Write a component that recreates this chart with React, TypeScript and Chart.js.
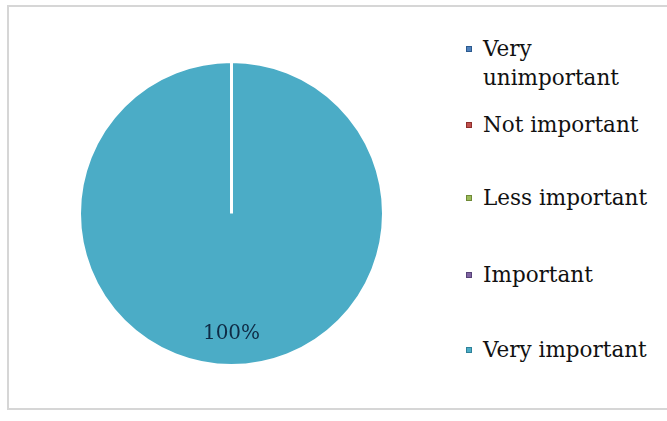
import React, { useEffect, useRef } from "react";
import { Chart, registerables } from "chart.js";

Chart.register(...registerables);

const categories = ["Very unimportant", "Not important", "Less important", "Important", "Very important"];
const legendLines = [["Very", "unimportant"], ["Not important"], ["Less important"], ["Important"], ["Very important"]];
const values = [0, 0, 0, 0, 100];
const colors = ["#4F81BD", "#C0504D", "#9BBB59", "#8064A2", "#4BACC6"];
const markerBorders = ["#2c5a8e", "#8e2f2c", "#6f8a37", "#574378", "#2f8199"];

const FONT = "'DejaVu Serif', serif";

const pctLabelPlugin = {
  id: "pctLabel",
  afterDatasetsDraw(chart: any) {
    const ctx = chart.ctx;
    const meta = chart.getDatasetMeta(0);
    const data = chart.data.datasets[0].data as number[];
    const total = data.reduce((a, b) => a + b, 0);
    meta.data.forEach((arc: any, i: number) => {
      if (!data[i]) return;
      const { x, y, startAngle, endAngle, outerRadius } = arc.getProps(["x", "y", "startAngle", "endAngle", "outerRadius"], true);
      const mid = (startAngle + endAngle) / 2;
      const r = outerRadius * 0.79;
      ctx.save();
      ctx.font = "20px " + FONT;
      ctx.fillStyle = "#0f2b45";
      ctx.textAlign = "center";
      ctx.textBaseline = "middle";
      ctx.fillText(Math.round((data[i] / total) * 100) + "%", x + Math.cos(mid) * r, y + Math.sin(mid) * r);
      ctx.restore();
    });
  },
};

export default function App() {
  const ref = useRef<HTMLCanvasElement>(null);
  useEffect(() => {
    if (!ref.current) return;
    const chart = new Chart(ref.current, {
      type: "pie",
      data: {
        labels: categories,
        datasets: [
          {
            data: values,
            backgroundColor: colors,
            borderColor: "#ffffff",
            borderWidth: 3,
          },
        ],
      },
      options: {
        animation: false,
        responsive: false,
        devicePixelRatio: 1,
        layout: { padding: 0 },
        plugins: { legend: { display: false }, tooltip: { enabled: false } },
      },
      plugins: [pctLabelPlugin],
    });
    return () => chart.destroy();
  }, []);

  const baselines = [56, 132, 205, 282, 357];

  return (
    <div style={{ position: "fixed", left: 0, top: 0, width: 667, height: 421, background: "#fff", overflow: "hidden" }}>
      <div
        style={{
          position: "absolute",
          left: 7,
          top: 5,
          width: 700,
          height: 405,
          border: "2px solid #d6d6d6",
          boxSizing: "border-box",
        }}
      />
      <canvas ref={ref} width={307} height={307} style={{ position: "absolute", left: 78, top: 60 }} />
      {legendLines.map((lines, i) => (
        <div key={categories[i]}>
          <div
            style={{
              position: "absolute",
              left: 466,
              top: baselines[i] - 10,
              width: 6,
              height: 6,
              boxSizing: "border-box",
              background: colors[i],
              border: "1px solid " + markerBorders[i],
            }}
          />
          <div
            style={{
              position: "absolute",
              left: 483,
              top: baselines[i] - 22,
              fontFamily: FONT,
              fontSize: 21.5,
              lineHeight: "29px",
              color: "#111",
              whiteSpace: "nowrap",
            }}
          >
            {lines.map((l) => (
              <div key={l}>{l}</div>
            ))}
          </div>
        </div>
      ))}
    </div>
  );
}
